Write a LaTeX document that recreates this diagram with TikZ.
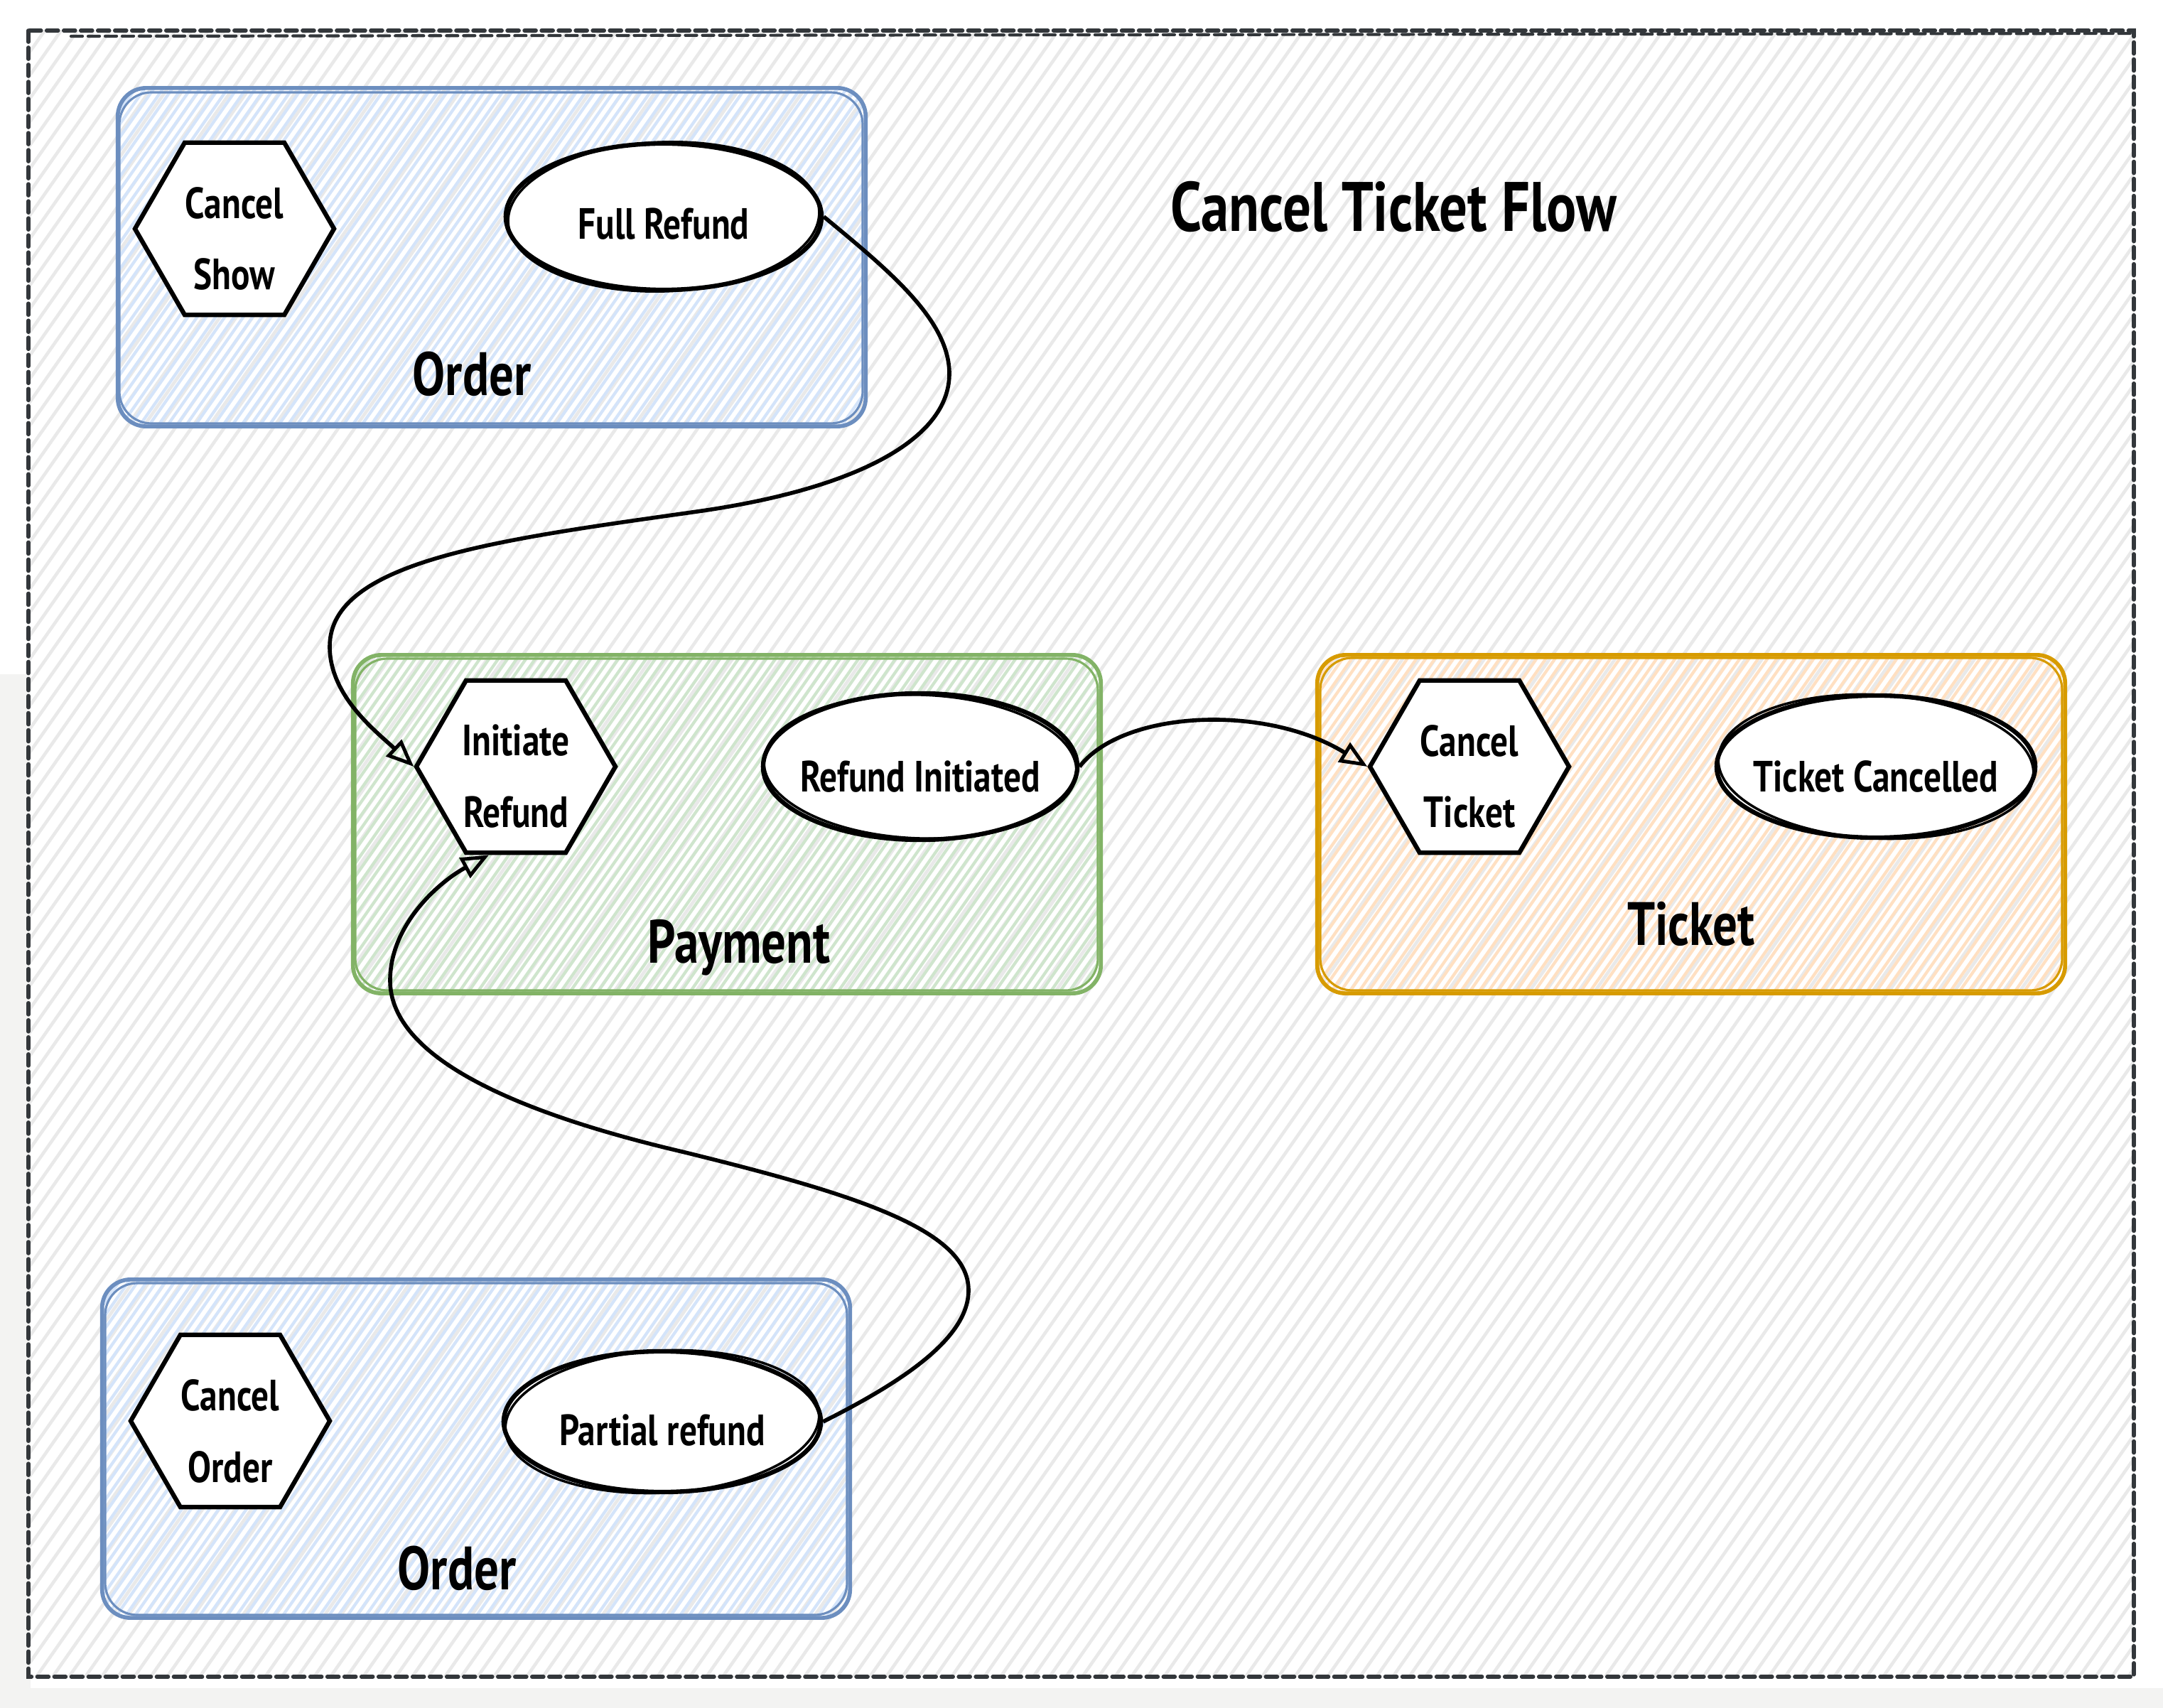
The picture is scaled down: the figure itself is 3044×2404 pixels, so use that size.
\documentclass[tikz,border=0pt]{standalone}
\usepackage{fontspec}
\setmainfont{PT Sans}[FakeStretch=0.8]
\usetikzlibrary{shapes.geometric,arrows.meta}
\definecolor{pagegray}{HTML}{F3F3F2}
\definecolor{hgray}{HTML}{E9E9E9}
\definecolor{framecol}{HTML}{33373B}
\definecolor{bluestroke}{HTML}{6C8EBF}
\definecolor{bluefill}{HTML}{D4E4FA}
\definecolor{greenstroke}{HTML}{82B366}
\definecolor{greenfill}{HTML}{CFE5CD}
\definecolor{orangestroke}{HTML}{D79B00}
\definecolor{orangefill}{HTML}{FFE0C2}
\newcommand\hatcharea[7]{%
  \begin{scope}
    \clip[rounded corners=#7] (#1,#2) rectangle (#3,#4);
    \pgfmathsetmacro\hatchH{#4-#2}
    \pgfmathsetmacro\hatchW{0.7*\hatchH}
    \pgfmathsetmacro\hatchA{#1-\hatchW}
    \pgfmathsetmacro\hatchB{\hatchA+#6}
    \foreach \hs in {\hatchA,\hatchB,...,#3}
      \draw[#5] (\hs,#4) -- ++(\hatchW,-\hatchH);
  \end{scope}}
\tikzset{
  titletxt/.style={font=\bfseries\fontsize{28}{34}\selectfont},
  boxlbl/.style={font=\bfseries\fontsize{24.5}{30}\selectfont},
  nodetxt/.style={font=\bfseries\fontsize{17.5}{28.7}\selectfont, align=center, inner sep=0pt},
  hexnode/.style={regular polygon, regular polygon sides=6, minimum size=2.8cm,
    draw=black, fill=white, line width=1.8pt, inner sep=0pt},
  ellnode/.style={ellipse, draw=black, fill=white, line width=1.8pt, inner sep=0pt},
  grpbox/.style={rounded corners=0.4cm, line width=1.6pt, inner sep=0pt,
    minimum width=10.52cm, minimum height=4.76cm},
  conn/.style={line width=1.6pt, -{Triangle[open,length=11pt,width=9pt,line width=1.4pt]}},
  grayhatch/.style={hgray, line width=1.3pt},
  bluehatch/.style={bluefill, line width=1.2pt},
  greenhatch/.style={greenfill, line width=1.2pt},
  orangehatch/.style={orangefill, line width=1.2pt},
}
\begin{document}
\begin{tikzpicture}[x=0.01cm,y=-0.01cm]
\useasboundingbox (0,0) rectangle (3044,2404);
% page
\fill[pagegray] (0,0) rectangle (3044,2404);
\fill[white] (0,0) rectangle (3044,949);
\fill[white] (43,0) rectangle (3044,2376);
% frame hachure and frame
\hatcharea{40}{43}{3003}{2360}{grayhatch}{23}{0pt}
\draw[framecol, line width=1.6pt, dash pattern=on 0.16cm off 0.08cm, line cap=round]
  (40,43) rectangle (3003,2360);
\draw[framecol, line width=1.2pt, dash pattern=on 0.16cm off 0.08cm, line cap=round]
  (100,51) -- (3003,47);
% group boxes hachure
\hatcharea{165}{124}{1219}{600}{bluehatch}{13}{0.4cm}
\hatcharea{497}{922}{1549}{1398}{greenhatch}{13}{0.4cm}
\hatcharea{1854}{922}{2906}{1398}{orangehatch}{13}{0.4cm}
\hatcharea{144}{1801}{1196}{2277}{bluehatch}{13}{0.4cm}
% group boxes
\node[grpbox, draw=bluestroke] (orderA) at (692,362) {};
\node[grpbox, draw=greenstroke] (payment) at (1023,1160) {};
\node[grpbox, draw=orangestroke] (ticket) at (2380,1160) {};
\node[grpbox, draw=bluestroke] (orderB) at (670,2039) {};
% sketch second strokes
\draw[bluestroke, line width=0.9pt, rounded corners=0.45cm] (168,130) rectangle (1214,596);
\draw[greenstroke, line width=0.9pt, rounded corners=0.45cm] (500,927) rectangle (1545,1394);
\draw[orangestroke, line width=0.9pt, rounded corners=0.45cm] (1858,926) rectangle (2902,1394);
\draw[bluestroke, line width=0.9pt, rounded corners=0.45cm] (148,1806) rectangle (1192,2273);
% title
\node[titletxt] (title) at (1961,291) {Cancel Ticket Flow};
% box labels
\node[boxlbl] (orderAlbl) at (664,526) {Order};
\node[boxlbl] (paymentlbl) at (1040,1334) {Payment};
\node[boxlbl] (ticketlbl) at (2380,1300) {Ticket};
\node[boxlbl] (orderBlbl) at (643,2207) {Order};
% hexagons
\node[hexnode] (cs) at (330,322) {};
\node[hexnode] (ir) at (726,1079) {};
\node[hexnode] (ct) at (2068,1079) {};
\node[hexnode] (co) at (324,2000) {};
\node[nodetxt] (cstxt) at (330,336) {Cancel\\Show};
\node[nodetxt] (irtxt) at (726,1093) {Initiate\\Refund};
\node[nodetxt] (cttxt) at (2068,1093) {Cancel\\Ticket};
\node[nodetxt] (cotxt) at (324,2014) {Cancel\\Order};
% ellipses
\node[ellnode, minimum width=4.44cm, minimum height=2.06cm] (fr) at (934,305) {};
\node[ellnode, minimum width=4.42cm, minimum height=2.06cm] (ri) at (1295,1079) {};
\node[ellnode, minimum width=4.48cm, minimum height=2.0cm] (tc) at (2640,1079) {};
\node[ellnode, minimum width=4.46cm, minimum height=1.98cm] (pr) at (932,2001) {};
\draw[line width=1.0pt, rotate around={2:(fr.center)}] (fr.center) ellipse [x radius=219, y radius=105];
\draw[line width=1.0pt, rotate around={-2:(ri.center)}] (ri.center) ellipse [x radius=220, y radius=101];
\draw[line width=1.0pt, rotate around={-3:(tc.center)}] (tc.center) ellipse [x radius=222, y radius=101];
\draw[line width=1.0pt, rotate around={3:(pr.center)}] (pr.center) ellipse [x radius=221, y radius=100];
\node[nodetxt] (frtxt) at (934,315) {Full Refund};
\node[nodetxt] (ritxt) at (1295,1093) {Refund Initiated};
\node[nodetxt] (tctxt) at (2640,1093) {Ticket Cancelled};
\node[nodetxt] (prtxt) at (932,2013) {Partial refund};
% connectors
\draw[conn] (fr.east) .. controls (1250,380) and (1336,450) .. (1336,526)
  .. controls (1336,620) and (1200,690) .. (974,721)
  .. controls (700,760) and (464,790) .. (464,910)
  .. controls (464,980) and (530,1030) .. (ir.west);
\draw[conn] (pr.east) .. controls (1280,1940) and (1363,1880) .. (1363,1816)
  .. controls (1363,1730) and (1200,1680) .. (960,1621)
  .. controls (700,1560) and (549,1480) .. (549,1380)
  .. controls (549,1300) and (620,1240) .. (ir.253);
\draw[conn] (ri.east) .. controls (1580,1000) and (1780,990) .. (ct.west);
\end{tikzpicture}
\end{document}
